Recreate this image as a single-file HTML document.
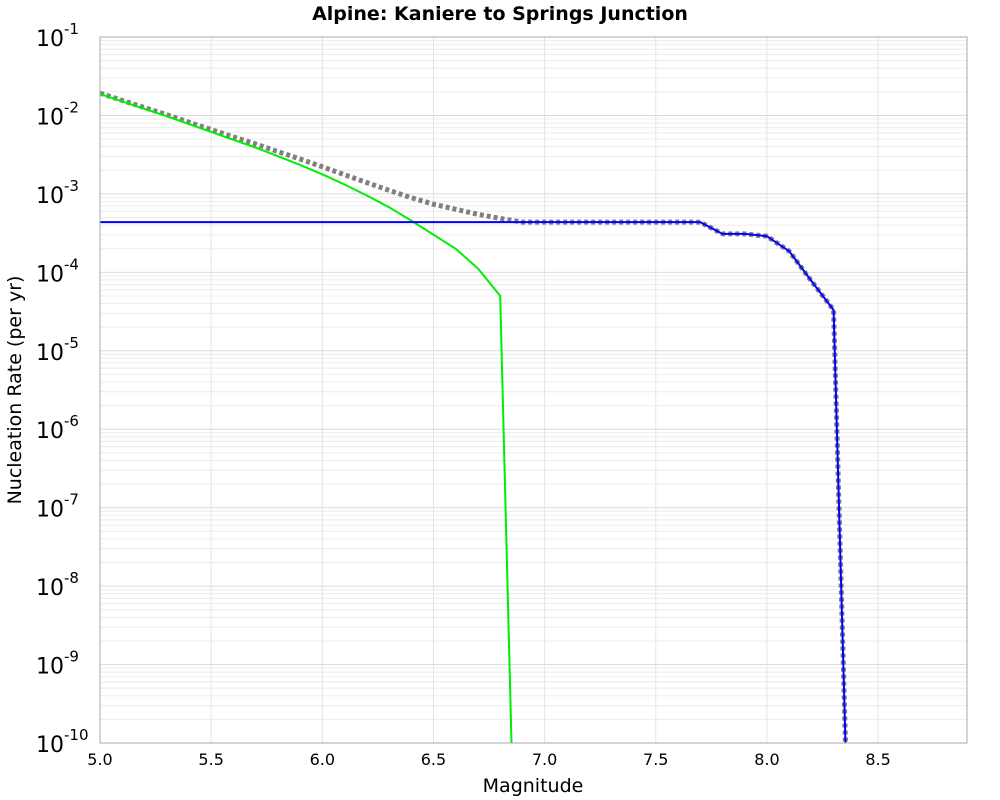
<!DOCTYPE html>
<html><head><meta charset="utf-8"><style>
html,body{margin:0;background:#fff;overflow:hidden;width:1000px;height:800px;font-family:"Liberation Sans","DejaVu Sans",sans-serif}
svg{display:block}
svg text{font-family:"DejaVu Sans","Liberation Sans",sans-serif}
</style></head><body>
<svg id="c" width="1000" height="800">
<text x="500" y="20" text-anchor="middle" font-size="19" font-weight="bold">Alpine: Kaniere to Springs Junction</text>
<text x="533" y="792" text-anchor="middle" font-size="19">Magnitude</text>
<text transform="translate(21,390) rotate(-90)" text-anchor="middle" font-size="19">Nucleation Rate (per yr)</text>
<g id="grid"></g><g id="ticks"></g><g id="series"></g>
<rect x="100" y="37" width="867" height="706" fill="none" stroke="#aaa"/>
</svg>
<script>
const mags=[5.0,5.1,5.2,5.3,5.4,5.5,5.6,5.7,5.8,5.9,6.0,6.1,6.2,6.3,6.4,6.5,6.6,6.7,6.8,6.9];
const grLog=[-1.727,-1.82,-1.915,-2.01,-2.11,-2.21,-2.31,-2.41,-2.52,-2.63,-2.75,-2.88,-3.02,-3.17,-3.34,-3.52,-3.70,-3.95,-4.30,-15.5];
const faultMags=[5.0,6.9,7.0,7.1,7.2,7.3,7.4,7.5,7.6,7.7,7.8,7.9,8.0,8.1,8.2,8.3,8.4];
const faultLog=[-3.36,-3.36,-3.36,-3.36,-3.36,-3.36,-3.36,-3.36,-3.36,-3.36,-3.51,-3.51,-3.54,-3.73,-4.11,-4.48,-14.8];
const xTicks=[5.0,5.5,6.0,6.5,7.0,7.5,8.0,8.5];
const yExps=[-1,-2,-3,-4,-5,-6,-7,-8,-9,-10];
const X=m=>100+(m-5.0)/3.9*867;
const Y=l=>37+(-1-l)/9*706;
const NS="http://www.w3.org/2000/svg";
function mk(p,t,a){const e=document.createElementNS(NS,t);for(const k in a)e.setAttribute(k,a[k]);p.appendChild(e);return e;}
const grid=document.getElementById('grid'),ticks=document.getElementById('ticks'),ser=document.getElementById('series');
for(let e=-10;e<-1;e++){for(let k=1;k<10;k++){const y=Y(e+Math.log10(k));
const g=mk(grid,'line',{x1:100,x2:967,y1:y,y2:y,stroke:k==1?'#dcdcdc':'#ececec','stroke-width':1});

}}
xTicks.forEach(m=>{const g=mk(grid,'line',{x1:X(m),x2:X(m),y1:37,y2:743,stroke:'#e4e4e4'});


const t=mk(ticks,'text',{x:X(m),y:765,'text-anchor':'middle','font-size':16});t.textContent=m.toFixed(1);

});
yExps.forEach(e=>{const t=mk(ticks,'text',{x:36,y:Y(e)+9,'text-anchor':'start','font-size':22});


t.textContent='10';const s=mk(t,'tspan',{dy:-12,'font-size':15});s.textContent=String(e);});
function path(xs,ls,st,name){const d=xs.map((m,i)=>(i?'L':'M')+X(m).toFixed(1)+','+Y(ls[i]).toFixed(1)).join('');
const p=mk(ser,'path',Object.assign({d:d,fill:'none'},st));

}
const cp=mk(document.getElementById('c'),'clipPath',{id:'cl'});mk(cp,'rect',{x:100,y:37,width:867,height:706});
ser.setAttribute('clip-path','url(#cl)');
const tm=[...new Set([...mags,...faultMags])].sort((a,b)=>a-b).filter(m=>m<=8.4);
function interp(xs,ls,m){if(m<xs[0]||m>xs[xs.length-1])return -99;for(let i=0;i<xs.length-1;i++)if(m>=xs[i]&&m<=xs[i+1]){const f=(m-xs[i])/(xs[i+1]-xs[i]);return ls[i]+f*(ls[i+1]-ls[i]);}return -99;}
const totLog=tm.map(m=>Math.log10(Math.pow(10,interp(mags,grLog,m))+Math.pow(10,interp(faultMags,faultLog,m))));
path(tm,totLog,{stroke:'#808080','stroke-width':5,'stroke-dasharray':'4,3'},'total-mfd-line');
path(mags,grLog,{stroke:'#00ee00','stroke-width':2},'gr-mfd-line');
path(faultMags,faultLog,{stroke:'#0000ff','stroke-width':2},'fault-mfd-line');
</script>
</body></html>
